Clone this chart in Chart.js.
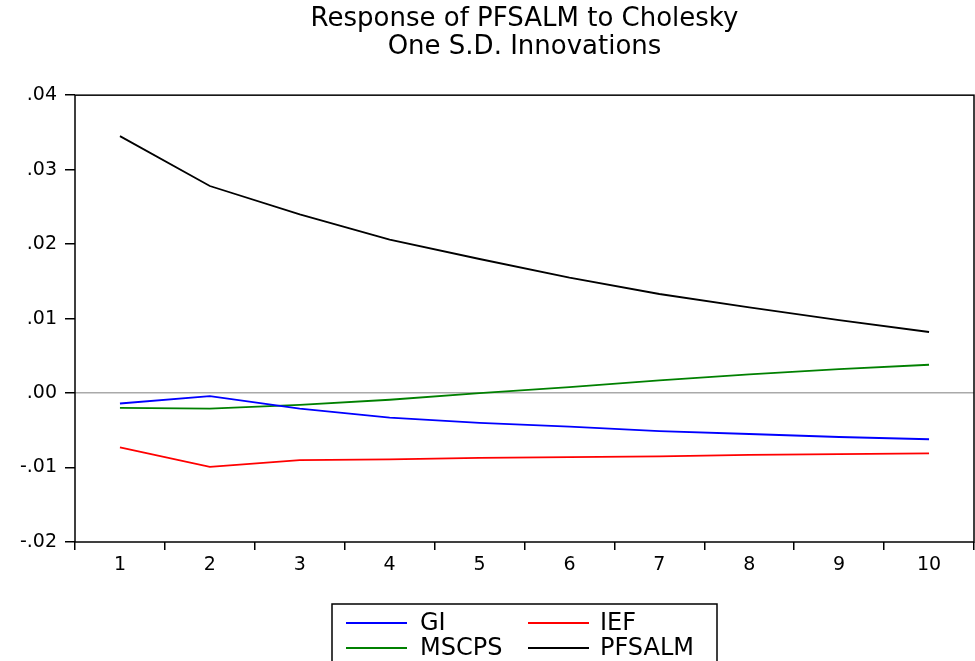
<!DOCTYPE html>
<html>
<head>
<meta charset="utf-8">
<script src="https://cdn.jsdelivr.net/npm/chart.js@4"></script>
<style>
    body { margin: 0; background: #fff; }
    #wrap { width: 975px; height: 661px; position: relative; }
</style>
</head>
<body>
<div id="wrap"><canvas id="irf"></canvas></div>
<script>
const FONT = '"DejaVu Sans", "Liberation Sans", Arial, sans-serif';

const periods = ['1', '2', '3', '4', '5', '6', '7', '8', '9', '10'];
const giValues = [-0.0014, -0.0004, -0.0021, -0.0033, -0.0040, -0.0045, -0.0051, -0.0055, -0.0059, -0.0062];
const iefValues = [-0.0073, -0.0099, -0.0090, -0.0089, -0.0087, -0.0086, -0.0085, -0.0083, -0.0082, -0.0081];
const mscpsValues = [-0.0020, -0.0021, -0.0016, -0.0009, 0.0000, 0.0008, 0.0017, 0.0025, 0.0032, 0.0038];
const pfsalmValues = [0.0345, 0.0278, 0.0240, 0.0206, 0.0180, 0.0155, 0.0133, 0.0115, 0.0098, 0.0082];
const titleLines = ['Response of PFSALM to Cholesky', 'One S.D. Innovations'];

// y labels in EViews style: .03, .00, -.01
function formatTick(v) {
    return v.toFixed(2).replace(/^(-?)0\./, '$1.');
}

// box around plot area
const frame = {
    id: 'frame',
    afterDatasetsDraw(chart) {
        const a = chart.chartArea;
        const ctx = chart.ctx;
        ctx.save();
        ctx.strokeStyle = '#000';
        ctx.lineWidth = 1.5;
        ctx.strokeRect(a.left, a.top, a.right - a.left, a.bottom - a.top);
        ctx.restore();
    }
};

// two column boxed legend under the axis
const boxLegend = {
    id: 'boxLegend',
    afterDraw(chart) {
        const ctx = chart.ctx;
        ctx.save();
        ctx.strokeStyle = '#000';
        ctx.lineWidth = 1.5;
        ctx.strokeRect(332, 604, 385, 70);
        ctx.font = '24px ' + FONT;
        ctx.fillStyle = '#000';
        ctx.textBaseline = 'middle';
        chart.data.datasets.forEach((ds, i) => {
            const col = i % 2;
            const row = Math.floor(i / 2);
            const y = 623 + row * 25;
            const x0 = 346 + col * 182;
            ctx.strokeStyle = ds.borderColor;
            ctx.lineWidth = 1.8;
            ctx.beginPath();
            ctx.moveTo(x0, y);
            ctx.lineTo(x0 + 61, y);
            ctx.stroke();
            ctx.fillText(ds.label, 420 + col * 180, y + 1);
        });
        ctx.restore();
    }
};

function makeSet(label, data, color) {
    return {
        label: label,
        data: data,
        borderColor: color,
        backgroundColor: color,
        borderWidth: 1.8,
        pointRadius: 0,
        tension: 0,
        fill: false
    };
}

new Chart(document.getElementById('irf'), {
    type: 'line',
    data: {
        labels: periods,
        datasets: [
            makeSet('GI', giValues, '#0000ff'),
            makeSet('IEF', iefValues, '#ff0000'),
            makeSet('MSCPS', mscpsValues, '#008000'),
            makeSet('PFSALM', pfsalmValues, '#000000')
        ]
    },
    options: {
        responsive: true,
        maintainAspectRatio: false,
        animation: false,
        layout: { padding: { right: 1 } },
        plugins: {
            legend: { display: false },
            tooltip: { enabled: false },
            title: {
                display: true,
                fullSize: false,
                text: titleLines,
                color: '#000',
                font: { family: FONT, size: 26, weight: 'normal', lineHeight: 1.08 },
                padding: { top: 5, bottom: 34 }
            }
        },
        scales: {
            x: {
                type: 'category',
                offset: true,
                afterFit: s => { s.height = 119; },
                border: { display: false },
                grid: {
                    offset: true,
                    drawOnChartArea: false,
                    drawTicks: true,
                    tickLength: 8,
                    color: '#000',
                    lineWidth: 1.5
                },
                ticks: {
                    color: '#000',
                    padding: 4,
                    maxRotation: 0,
                    font: { family: FONT, size: 19 }
                }
            },
            y: {
                min: -0.02,
                max: 0.04,
                afterFit: s => { s.width = 75; },
                border: { display: false },
                grid: {
                    drawOnChartArea: true,
                    drawTicks: true,
                    tickLength: 10,
                    color: c => (c.tick && Math.abs(c.tick.value) < 1e-9) ? '#aaaaaa' : 'rgba(0,0,0,0)',
                    tickColor: '#000',
                    lineWidth: 1.5
                },
                ticks: {
                    stepSize: 0.01,
                    color: '#000',
                    padding: 8,
                    callback: v => formatTick(v),
                    font: { family: FONT, size: 19 }
                }
            }
        }
    },
    plugins: [frame, boxLegend]
});
</script>
</body>
</html>
